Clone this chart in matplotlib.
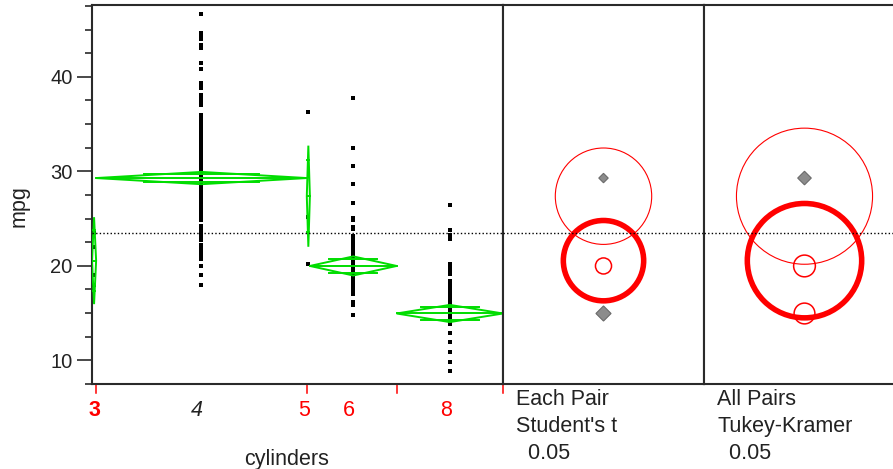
import numpy as np
import matplotlib
matplotlib.use("Agg")
import matplotlib.pyplot as plt
from matplotlib.patches import Circle, Polygon
from matplotlib.ticker import MultipleLocator, FixedLocator
import matplotlib.transforms as mtransforms

plt.rcParams['font.family'] = ['Liberation Sans', 'DejaVu Sans']

# ---------------- data ----------------
categories = ['3', '4', '5', '6', '8']
counts = [4, 204, 3, 84, 103]
means = [20.55, 29.29, 27.37, 19.99, 14.96]
ci_half = [4.6, 0.65, 5.35, 1.01, 0.91]
grand_mean = 23.45

mpg_3 = [23.5, 22.0, 19.0, 18.0]
mpg_4 = [46.6, 44.6, 44.3, 44.0, 43.4, 43.1, 41.5, 40.8, 39.4, 39.1, 38.8,
         38.1, 37.7, 37.3, 37.0,
         36.0, 35.7, 35.4, 35.1, 34.8, 34.5, 34.3, 34.1, 33.8, 33.5, 33.2,
         33.0, 32.8, 32.5, 32.2, 32.0, 31.8, 31.5, 31.3, 31.0, 30.7, 30.5,
         30.2, 30.0, 29.8, 29.5, 29.2, 29.0, 28.8, 28.5, 28.2, 28.0, 27.7,
         27.4, 27.2, 27.0, 26.7, 26.5, 26.2, 26.0, 25.7, 25.4, 25.1, 24.8,
         24.2, 24.0, 23.8, 23.5, 23.2, 23.0, 22.7,
         22.2, 22.0, 21.7, 21.5, 21.2, 21.0, 20.7,
         20.0, 19.0, 18.0]
mpg_5 = [36.3, 25.2, 20.2]
mpg_6 = [37.8, 32.5, 30.6, 28.7, 26.6, 25.1, 24.9, 24.1, 23.9,
         23.2, 23.0, 22.7, 22.4, 22.1, 21.8, 21.5, 21.2, 21.0, 20.7, 20.4,
         20.2, 20.0, 19.7, 19.4, 19.2, 19.0, 18.7, 18.4, 18.1, 17.9, 17.6,
         17.3, 17.0, 16.2, 15.9, 14.8]
mpg_8 = [26.4, 23.8, 23.3, 22.8, 20.2, 20.0, 19.7, 19.4, 19.1,
         18.4, 18.2, 17.9, 17.6, 17.3, 17.0, 16.7, 16.4, 16.1, 15.8, 15.5,
         15.2, 15.0, 14.7, 14.4, 14.1, 13.8, 12.9, 11.9, 10.9, 9.8, 8.9]
group_values = [mpg_3, mpg_4, mpg_5, mpg_6, mpg_8]

student_radius = [4.25, 0.50, 5.10, 0.85, 0.80]
tukey_radius = [6.05, 0.72, 7.20, 1.15, 1.10]
student_gray = [False, True, False, False, True]
tukey_gray = [False, True, False, False, False]
selected_group = '3'

y_major = [10, 20, 30, 40]
y_limits = (7.5, 47.6)

# ---------------- layout ----------------
W, H = 893, 469
fig = plt.figure(figsize=(W / 100, H / 100), dpi=100)


def px_rect(x0, x1, y0, y1):
    return [x0 / W, 1 - y1 / H, (x1 - x0) / W, (y1 - y0) / H]


ax = fig.add_axes(px_rect(92, 503, 5, 384))
ax2 = fig.add_axes(px_rect(503, 704, 5, 384))
ax3 = fig.add_axes(px_rect(704, 905, 5, 384))

GREEN = '#00dd00'
RED = '#ff0000'
TXT = '#222222'
SPINE = '#2a2a2a'
FS = 15.5

edges = np.concatenate([[0], np.cumsum(counts)])
centers = (edges[:-1] + edges[1:]) / 2

# ---------------- main panel ----------------
ax.set_xlim(0, edges[-1])
ax.set_ylim(*y_limits)

for i, vals in enumerate(group_values):
    ax.plot([centers[i]] * len(vals), vals, linestyle='none', marker='s',
            markersize=2.3, color='black', markeredgewidth=0, zorder=3)

for i in range(len(categories)):
    x0, x1, xc = edges[i], edges[i + 1], centers[i]
    m, h = means[i], ci_half[i]
    poly = Polygon([(x0, m), (xc, m + h), (x1, m), (xc, m - h)], closed=True,
                   fill=False, edgecolor=GREEN, linewidth=1.4, zorder=4)
    ax.add_patch(poly)
    ax.plot([x0, x1], [m, m], color=GREEN, lw=1.4, zorder=4)
    d = h * np.sqrt(2) / 2
    half = (x1 - x0) / 2 * 0.55
    for s in (1, -1):
        ax.plot([xc - half, xc + half], [m + s * d] * 2, color=GREEN, lw=1.4,
                zorder=4)

ax.axhline(grand_mean, color='black', lw=1.0, linestyle=(0, (1, 1.6)),
           zorder=5)

ax.yaxis.set_major_locator(FixedLocator(y_major))
ax.yaxis.set_minor_locator(MultipleLocator(2.5))
ax.tick_params(axis='y', which='major', length=10.5, width=1.2,
               color=SPINE, labelsize=14.5, labelcolor=TXT, pad=3.5)
ax.tick_params(axis='y', which='minor', length=5, width=1.2, color=SPINE)
ax.set_xticks([])
for sp in ax.spines.values():
    sp.set_color(SPINE)
    sp.set_linewidth(1.5)

# red category boundary ticks below the axis
trans = mtransforms.blended_transform_factory(ax.transData, ax.transAxes)
for b in [edges[1], edges[2], edges[4], edges[5]]:
    ax.plot([b, b], [0, -9 / 379], color=RED, lw=1.1, transform=trans,
            clip_on=False)

# category labels
for i, cat in enumerate(categories):
    kw = dict(color=RED, fontsize=FS)
    dx = -3
    if cat == selected_group:
        kw['fontweight'] = 'bold'
        dx = 0
    if cat == '4':
        kw = dict(color=TXT, fontsize=FS, fontstyle='italic')
    ax.annotate(cat, xy=(centers[i], 0), xycoords=trans,
                xytext=(dx, -19), textcoords='offset points',
                ha='center', va='center', **kw)

fig.text(287 / W, 1 - 459 / H, 'cylinders', ha='center', va='center',
         fontsize=FS, color=TXT)
fig.text(19 / W, 1 - 206 / H, 'mpg', ha='center', va='center',
         rotation=90, fontsize=FS, color=TXT)

# ---------------- comparison circle panels ----------------
ppm = 379 / (y_limits[1] - y_limits[0])
half_w = 201 / ppm / 2


def draw_circles(a, radii, gray):
    a.set_xlim(-half_w, half_w)
    a.set_ylim(*y_limits)
    a.set_xticks([])
    a.set_yticks([])
    for sp in a.spines.values():
        sp.set_color(SPINE)
        sp.set_linewidth(1.5)
    for i, cat in enumerate(categories):
        m, r = means[i], radii[i]
        if gray[i]:
            a.add_patch(Polygon([(0, m + r), (r, m), (0, m - r), (-r, m)],
                                closed=True, facecolor='#8c8c8c',
                                edgecolor='#6a6a6a', lw=0.8, zorder=3))
        elif cat == selected_group:
            a.add_patch(Circle((0, m), r, fill=False, edgecolor=RED,
                               lw=4.0, zorder=4))
        else:
            lw = 0.8 if r > 2 else 1.1
            a.add_patch(Circle((0, m), r, fill=False, edgecolor=RED,
                               lw=lw, zorder=3))
    a.axhline(grand_mean, color='black', lw=1.0, linestyle=(0, (1, 1.6)),
              zorder=5)


draw_circles(ax2, student_radius, student_gray)
draw_circles(ax3, tukey_radius, tukey_gray)

for x0, lines in [(516, ['Each Pair', "Student's t", '  0.05']),
                  (717, ['All Pairs', 'Tukey-Kramer', '  0.05'])]:
    for j, t in enumerate(lines):
        fig.text(x0 / W, 1 - (399 + 27 * j) / H, t, ha='left',
                 va='center', fontsize=FS, color=TXT)

fig.savefig('out.png', dpi=100)
